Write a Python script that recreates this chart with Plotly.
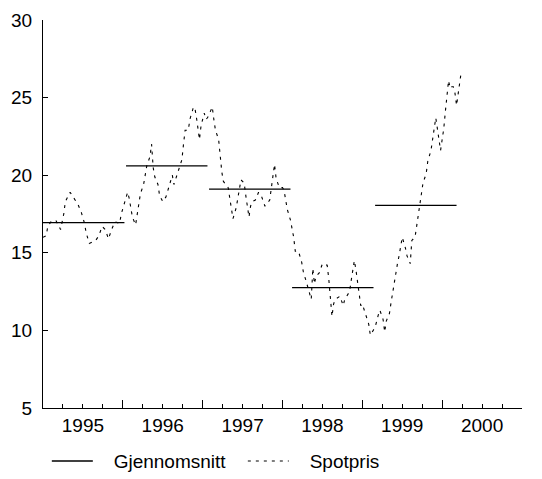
import plotly.graph_objects as go

# ---- data ----
years = ["1995", "1996", "1997", "1998", "1999", "2000"]
year_label_pos = [25, 75, 125, 175, 225, 275]          # week index of label centres
year_bounds = [0, 50, 100, 150, 200, 250, 300]         # major tick positions (week index)
quarter_ticks = [12.5, 25, 37.5, 62.5, 75, 87.5, 112.5, 125, 137.5, 162.5, 175, 187.5,
                 212.5, 225, 237.5, 262.5, 275, 287.5]

avg_start = [0, 52, 104, 156, 208]
avg_end = [51, 103, 155, 207, 259]
avg_value = [16.95, 20.6, 19.1, 12.75, 18.05]

weeks = [0, 2, 3, 5, 8, 11, 13, 14, 17, 19, 22, 24, 26, 27, 29, 31, 33, 35, 37, 39,
         41, 43, 45, 48, 49, 51, 53, 54, 55, 56, 58, 59, 60, 61, 63, 64, 65, 67, 68, 69,
         70, 72, 73, 75, 77, 79, 81, 82, 85, 86, 87, 88, 89, 91, 92, 94, 95, 96, 97, 98,
         99, 101, 102, 103, 104, 106, 107, 108, 110, 111, 112, 113, 116, 117, 118, 119, 121, 122, 123, 124,
         126, 127, 128, 129, 130, 131, 133, 135, 137, 139, 142, 143, 144, 145, 146, 148, 150, 151, 152, 153,
         155, 156, 157, 158, 160, 162, 163, 165, 167, 168, 169, 170, 171, 173, 175, 178, 179, 180, 181, 182,
         183, 186, 188, 189, 192, 193, 194, 195, 196, 197, 198, 199, 200, 202, 204, 205, 206, 208, 210, 211,
         213, 214, 215, 217, 218, 219, 220, 221, 222, 223, 224, 225, 227, 228, 230, 231, 233, 234, 235, 236,
         237, 238, 240, 241, 243, 244, 245, 246, 247, 248, 249, 250, 251, 252, 253, 254, 255, 256, 257, 258,
         259, 260, 261, 262]
spot = [16.0, 16.1, 16.7, 17.0, 17.1, 16.5, 17.5, 18.3, 18.9, 18.6, 18.1, 17.6, 16.9, 16.3, 15.6, 15.7, 15.8, 16.1, 16.7, 16.5,
        15.9, 16.5, 17.0, 16.9, 17.5, 18.2, 18.9, 18.5, 17.8, 17.3, 16.8, 17.5, 18.3, 18.8, 19.4, 20.0, 20.6, 21.2, 22.0, 20.5,
        19.9, 19.4, 18.7, 18.3, 18.6, 19.3, 20.0, 19.4, 20.3, 20.6, 21.0, 22.0, 22.9, 22.9, 23.6, 24.3, 24.4, 23.8, 23.0, 22.3,
        23.2, 24.0, 23.6, 23.7, 23.9, 24.4, 23.6, 22.9, 22.3, 21.2, 20.2, 19.6, 19.2, 18.5, 17.9, 17.2, 17.9, 18.4, 19.1, 19.7,
        19.5, 18.7, 18.0, 17.3, 18.0, 18.3, 18.4, 18.9, 18.6, 18.0, 18.4, 19.2, 19.9, 20.7, 19.8, 19.2, 19.2, 19.0, 18.4, 17.8,
        17.1, 16.6, 16.0, 15.1, 15.1, 14.4, 13.8, 13.1, 12.4, 12.0, 14.0, 13.0, 13.5, 13.7, 14.3, 14.2, 13.3, 12.3, 10.9, 11.7,
        12.0, 12.2, 11.6, 12.0, 12.5, 13.2, 13.9, 14.5, 13.9, 13.1, 12.5, 11.6, 11.7, 11.1, 10.4, 9.7, 9.9, 10.2, 11.0, 11.3,
        10.7, 9.9, 10.6, 11.1, 11.8, 12.5, 13.1, 13.9, 14.3, 14.8, 15.4, 16.0, 15.3, 14.8, 14.3, 15.8, 16.0, 16.7, 17.4, 18.1,
        18.8, 19.5, 20.1, 20.9, 21.6, 22.4, 23.2, 23.7, 23.0, 22.2, 21.6, 22.3, 23.0, 24.1, 25.0, 26.1, 25.6, 25.7, 25.7, 25.3,
        24.5, 25.3, 25.9, 26.7]

series_names = ["Gjennomsnitt", "Spotpris"]

# ---- figure ----
FONT = "Arial, Liberation Sans, sans-serif"
NB = "\u00a0" * 3

avg_x, avg_y = [], []
for s, e, v in zip(avg_start, avg_end, avg_value):
    avg_x += [s, e, None]
    avg_y += [v, v, None]

fig = go.Figure()
fig.add_trace(go.Scatter(x=avg_x, y=avg_y, mode="lines", name=NB + series_names[0],
                         line=dict(color="black", width=1.3)))
fig.add_trace(go.Scatter(x=weeks, y=spot, mode="lines", name=NB + series_names[1],
                         line=dict(color="black", width=1.1, dash="3px,5px")))

# invisible trace on overlay axis so it is drawn
fig.add_trace(go.Scatter(x=[0, 300], y=[None, None], xaxis="x2", showlegend=False,
                         hoverinfo="skip"))

# the page body adds an 8px offset, so the figure is 8px smaller and margins shifted
fig.update_layout(
    width=534, height=471,
    margin=dict(l=35, r=20, t=12, b=71, autoexpand=False),
    paper_bgcolor="white", plot_bgcolor="white",
    font=dict(family=FONT, size=19, color="black"),
    showlegend=True,
    legend=dict(orientation="h", x=0.008, y=-0.137, xanchor="left", yanchor="middle",
                font=dict(size=19), itemwidth=41, traceorder="normal",
                entrywidth=140, entrywidthmode="pixels"),
    xaxis=dict(range=[0, 300], tickmode="array", tickvals=year_label_pos, ticktext=years,
               ticks="", showgrid=False, zeroline=False, showline=True, automargin=False,
               linecolor="black", linewidth=1, tickfont=dict(size=19)),
    xaxis2=dict(range=[0, 300], overlaying="x", anchor="y", side="bottom",
                tickmode="array", tickvals=year_bounds, ticks="inside", ticklen=8,
                tickcolor="black", tickwidth=1, showticklabels=False, showgrid=False,
                zeroline=False, showline=False, automargin=False,
                minor=dict(tickmode="array", tickvals=quarter_ticks, ticks="inside",
                           ticklen=4, tickcolor="black", tickwidth=1, showgrid=False)),
    yaxis=dict(range=[5, 30], tickvals=[5, 10, 15, 20, 25, 30], ticks="inside",
               ticklen=5, tickcolor="black", showgrid=False, zeroline=False,
               showline=True, linecolor="black", linewidth=1, automargin=False,
               tickfont=dict(size=19), ticklabelstandoff=6),
)

fig.write_html("out.html")
